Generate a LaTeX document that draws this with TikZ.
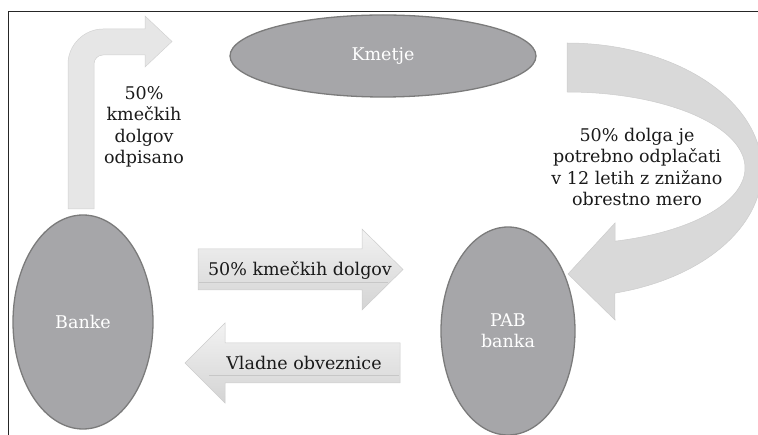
\documentclass[tikz,border=0pt]{standalone}
\usepackage{fontspec}
\setmainfont{DejaVu Serif}
\usetikzlibrary{shapes.geometric}
\definecolor{ellfill}{HTML}{A6A6A9}
\definecolor{elldraw}{HTML}{7B7B7B}
\definecolor{bentfill}{HTML}{E6E6E6}
\definecolor{bentdraw}{HTML}{D2D2D2}
\definecolor{curvefill}{HTML}{D9D9D9}
\definecolor{curvedraw}{HTML}{CCCCCC}
\definecolor{txt}{HTML}{1A1A1A}
\tikzset{
  ell/.style={ellipse, fill=ellfill, draw=elldraw, line width=1.3pt, inner sep=0pt, outer sep=0pt,
    text=white, align=center, font=\fontsize{17.5}{21}\selectfont},
  lbl/.style={text=txt, align=center, inner sep=0pt, font=\fontsize{17.5}{21.5}\selectfont},
  glossy/.style={top color=white!95!black, bottom color=white!83!black, draw=white!80!black, line width=0.5pt},
  gloss/.style={draw=white!78!black, line width=0.4pt},
}
\begin{document}
\begin{tikzpicture}[x=1pt,y=-1pt]
\useasboundingbox (0,0) rectangle (758,435);
\clip (0,0) rectangle (758,435);
% frame
\draw[line width=0.9pt, black!85] (758,11) -- (8,11) -- (8,436);
% bent arrow
\path[fill=bentfill, draw=bentdraw, line width=0.5pt]
  (68,209) -- (68,64) .. controls (68,45) and (84,29) .. (103,29) -- (145,29) -- (145,16) -- (172,41.5)
  -- (145,67) -- (145,55) -- (103,55) .. controls (98,55) and (94,59) .. (94,64) -- (94,209) -- cycle;
% curved arrow
\path[fill=curvefill, draw=curvedraw, line width=0.5pt]
  plot[domain=-90:75.8, samples=90] ({567+195*cos(\x)},{170+127*sin(\x)})
  -- (615,320) -- (568,274) -- (615,223)
  -- plot[domain=74.3:-90, samples=90] ({567+178*cos(\x)},{168+76*sin(\x)}) -- cycle;
% straight arrows
\shade[glossy] (198,249) -- (362,249) -- (362,229) -- (403,269.5) -- (362,310) -- (362,290) -- (198,290) -- cycle;
\draw[gloss] (199,282) -- (388,282);
\shade[glossy] (400,343) -- (225,343) -- (225,323) -- (185,363) -- (225,403) -- (225,383) -- (400,383) -- cycle;
\draw[gloss] (209,375) -- (399,375);
% ellipses
\node[ell, minimum width=306pt, minimum height=82pt] (kmetje) at (383,56) {Kmetje};
\node[ell, minimum width=140pt, minimum height=214pt] (banke) at (83,322) {Banke};
\node[ell, minimum width=134pt, minimum height=208pt] (pab) at (508,331) {PAB\\banka};
% labels
\node[lbl] (odpis) at (144,127) {50\%\\kmečkih\\dolgov\\odpisano};
\node[lbl] (odplac) at (637,167) {50\% dolga je\\potrebno odplačati\\v 12 letih z znižano\\obrestno mero};
\node[lbl] (kdolg) at (300,270) {50\% kmečkih dolgov};
\node[lbl] (vlad) at (304,363) {Vladne obveznice};
\end{tikzpicture}
\end{document}
